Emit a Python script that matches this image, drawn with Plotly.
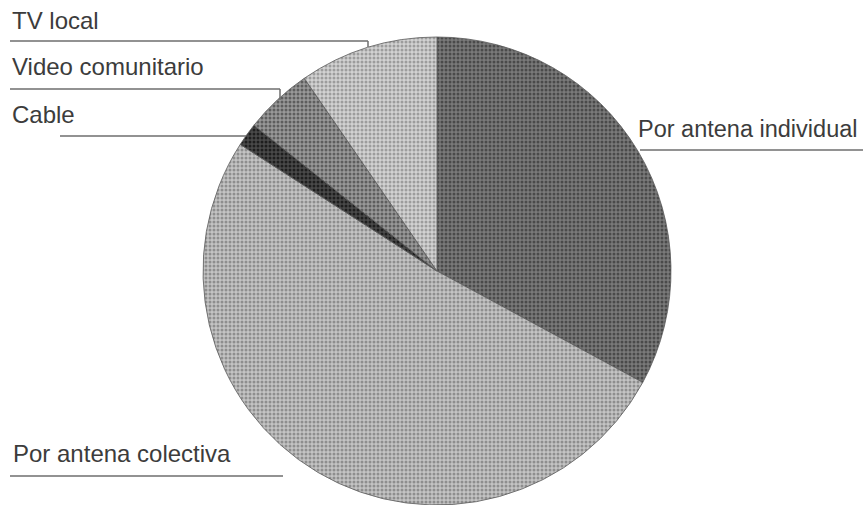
import plotly.graph_objects as go

W, H = 863, 505

labels = ["Por antena individual", "Por antena colectiva", "Cable", "Video comunitario", "TV local"]
values = [32.9, 51.2, 1.6, 4.7, 9.6]
fg_colors = ["#4a4a4a", "#8e8e8e", "#1e1e1e", "#5e5e5e", "#9c9c9c"]
bg_colors = ["#7a7a7a", "#c4c4c4", "#4a4a4a", "#999999", "#d2d2d2"]

# pie geometry (pixels)
cx, cy, r = 437, 271, 234

def px(x):
    return x / W

def py(y):
    return 1 - y / H

fig = go.Figure(go.Pie(
    labels=labels,
    values=values,
    sort=False,
    direction="clockwise",
    rotation=0,
    textinfo="none",
    hoverinfo="label+percent",
    marker=dict(
        colors=bg_colors,
        line=dict(color="#5a5a5a", width=0.8),
        pattern=dict(shape=".", fgcolor=fg_colors, bgcolor=bg_colors, size=4, solidity=0.45),
    ),
    domain=dict(x=[px(cx - r), px(cx + r)], y=[py(cy + r), py(cy - r)]),
    showlegend=False,
))

# label text: (text, x_left, baseline_y, size)
label_pos = [
    ("TV local", 10, 29, 24),
    ("Video comunitario", 10, 75, 24),
    ("Cable", 10, 123, 24),
    ("Por antena individual", 636, 137, 23.5),
    ("Por antena colectiva", 11, 462, 24),
]
annotations = []
for t, x, b, fs in label_pos:
    annotations.append(dict(
        text=t, x=px(x), y=py(b - 0.36 * fs), xref="paper", yref="paper",
        xanchor="left", yanchor="middle", showarrow=False,
        font=dict(family="Liberation Sans, Arial, sans-serif", size=fs, color="#3c3c3c"),
    ))

# leader lines as polylines in pixel coords
leaders = [
    [(10, 41), (368, 41), (368, 47)],
    [(10, 89), (280, 89), (280, 100)],
    [(60, 136), (246, 136)],
    [(640, 150), (863, 150)],
    [(10, 476), (283, 476)],
]
shapes = []
for pts in leaders:
    for (x0, y0), (x1, y1) in zip(pts[:-1], pts[1:]):
        shapes.append(dict(type="line", xref="paper", yref="paper",
                           x0=px(x0), y0=py(y0), x1=px(x1), y1=py(y1),
                           line=dict(color="#6e6e6e", width=1.5)))

fig.update_layout(
    width=W, height=H,
    margin=dict(l=0, r=0, t=0, b=0),
    paper_bgcolor="white",
    plot_bgcolor="white",
    annotations=annotations,
    shapes=shapes,
)

fig.write_html(
    "out.html",
    config={"displayModeBar": False},
    post_script="document.body.style.margin='0px';document.body.style.overflow='hidden';",
)
